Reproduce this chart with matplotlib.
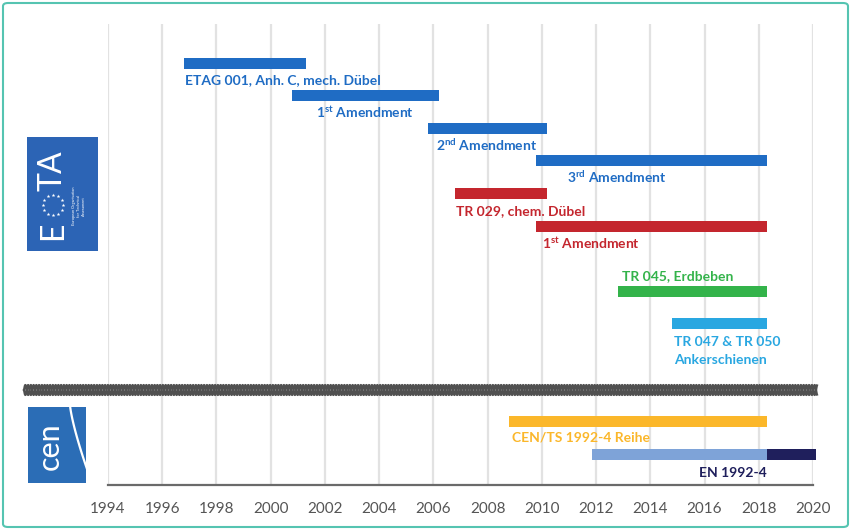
import numpy as np
import matplotlib
matplotlib.use('Agg')
import matplotlib.pyplot as plt
from matplotlib.patches import Rectangle, FancyBboxPatch

plt.rcParams['font.family'] = ['Lato', 'DejaVu Sans']
plt.rcParams['mathtext.fontset'] = 'custom'
plt.rcParams['mathtext.rm'] = 'Lato:bold'
plt.rcParams['mathtext.bf'] = 'Lato:bold'
plt.rcParams['mathtext.it'] = 'Lato:bold'

# ---------------- data ----------------
tick_years = list(range(1994, 2021, 2))
tick_labels = [str(y) for y in tick_years]

bar_rows = [0, 1, 2, 3, 4, 5, 7, 8, 11, 12, 12]
bar_start = [1996.8, 2000.8, 2005.8, 2009.8, 2006.8, 2009.8, 2012.8, 2014.8, 2008.8, 2011.85, 2018.3]
bar_end = [2001.3, 2006.2, 2010.2, 2018.3, 2010.2, 2018.3, 2018.3, 2018.3, 2018.3, 2018.3, 2020.1]
BLUE, RED, GREEN, LBLUE, ORANGE, STEEL, NAVY = ('#1f6cc4', '#c4262e', '#33b34a', '#29a7e1',
                                                '#fbb72a', '#7ea3d8', '#1f1f5c')
bar_colors = [BLUE, BLUE, BLUE, BLUE, RED, RED, GREEN, LBLUE, ORANGE, STEEL, NAVY]

label_text = ["ETAG 001, Anh. C, mech. Dübel",
              r"$1^{\mathrm{st}}$ Amendment",
              r"$2^{\mathrm{nd}}$ Amendment",
              r"$3^{\mathrm{rd}}$ Amendment",
              "TR 029, chem. Dübel",
              r"$1^{\mathrm{st}}$ Amendment",
              "TR 045, Erdbeben",
              "TR 047 & TR 050",
              "Ankerschienen",
              "CEN/TS 1992-4 Reihe",
              "EN 1992-4"]
label_x = [1996.85, 2001.67, 2006.1, 2010.92, 2006.83, 2010.0, 2012.95, 2014.87, 2014.87, 2008.9, 2018.3]
label_row = [0.49, 1.53, 2.55, 3.53, 4.51, 5.55, 6.5, 8.53, 9.08, 11.47, 12.55]
label_colors = [BLUE, BLUE, BLUE, BLUE, RED, RED, GREEN, LBLUE, LBLUE, ORANGE, NAVY]
label_ha = ['left'] * 10 + ['right']

# ---------------- figure ----------------
W, H = 851, 530
fig = plt.figure(figsize=(W / 100, H / 100), dpi=100)
fig.patch.set_facecolor('white')


def fx(px):
    return px / W


def fy(py):
    return 1 - py / H


ax = fig.add_axes([fx(108), fy(485), fx(813) - fx(108), fy(24) - fy(485)])
ax.set_xlim(1994, 2020)
ax.set_ylim(12.94, -1.2)
ax.set_xticks(tick_years)
ax.set_xticklabels(tick_labels, fontsize=11, color='#555555')
ax.tick_params(axis='x', length=0, pad=12)
ax.set_yticks([])
for s in ['top', 'left', 'right']:
    ax.spines[s].set_visible(False)
ax.spines['bottom'].set_color('#6a6a6a')
ax.spines['bottom'].set_linewidth(1.6)
ax.grid(axis='x', color='#e2e2e2', linewidth=1.6)
ax.set_axisbelow(True)

bar_h = 0.34
for r, s, e, c in zip(bar_rows, bar_start, bar_end, bar_colors):
    ax.barh(r, e - s, left=s, height=bar_h, color=c, clip_on=False, zorder=3)

for t, x, r, c, ha in zip(label_text, label_x, label_row, label_colors, label_ha):
    ax.text(x, r + 0.15, t, color=c, ha=ha, va='baseline', fontsize=10,
            fontweight='bold', zorder=4)

# ---------------- separator (braid) ----------------
xs = np.linspace(24, 817, 3000)
phase = 2 * np.pi * (xs - 24) / 5.5
for sgn in (1, -1):
    ys = 390 + sgn * 5 * np.sin(phase)
    fig.add_artist(plt.Line2D(fx(xs), fy(ys), color='#505050', lw=1.6,
                              transform=fig.transFigure, zorder=5))

# ---------------- EOTA logo ----------------
fig.add_artist(Rectangle((fx(27), fy(251)), fx(98) - fx(27), fy(137) - fy(251),
                         transform=fig.transFigure, facecolor='#2c64b5', edgecolor='none'))
fig.text(fx(53), fy(231), 'E', rotation=90, ha='center', va='center', fontsize=23,
         color='white', fontweight='normal')
fig.text(fx(53), fy(171), 'TA', rotation=90, ha='center', va='center', fontsize=23,
         color='white', fontweight='normal')
ang = np.linspace(0, 2 * np.pi, 12, endpoint=False)
fig.add_artist(plt.Line2D(fx(53 + 10 * np.cos(ang)), fy(205 + 10 * np.sin(ang)),
                          linestyle='none', marker='*', markersize=2.8, color='white',
                          markeredgewidth=0, transform=fig.transFigure))
for i, s in enumerate(['European Organisation', 'for Technical', 'Assessment']):
    fig.text(fx(74 + i * 5), fy(206), s, rotation=90, ha='center', va='center',
             fontsize=2.8, color='white')

# ---------------- CEN logo ----------------
fig.add_artist(Rectangle((fx(28), fy(483)), fx(86) - fx(28), fy(407) - fy(483),
                         transform=fig.transFigure, facecolor='#2b6db6', edgecolor='none'))
fig.text(fx(50), fy(446), 'cen', rotation=90, ha='center', va='center', fontsize=22,
         color='white', fontweight='normal')
cy = np.linspace(405, 483, 50)
cx = 70 + 22 * ((cy - 405) / 78) ** 1.3
fig.add_artist(plt.Line2D(fx(cx), fy(cy), color='white', lw=1.6, transform=fig.transFigure))

# ---------------- frame ----------------
fig.add_artist(FancyBboxPatch((fx(3), fy(527)), fx(848) - fx(3), fy(3) - fy(527),
                              boxstyle='round,pad=0,rounding_size=0.006',
                              transform=fig.transFigure, facecolor='none',
                              edgecolor='#55c4b1', lw=1.5))

fig.savefig('out.png', dpi=100)
